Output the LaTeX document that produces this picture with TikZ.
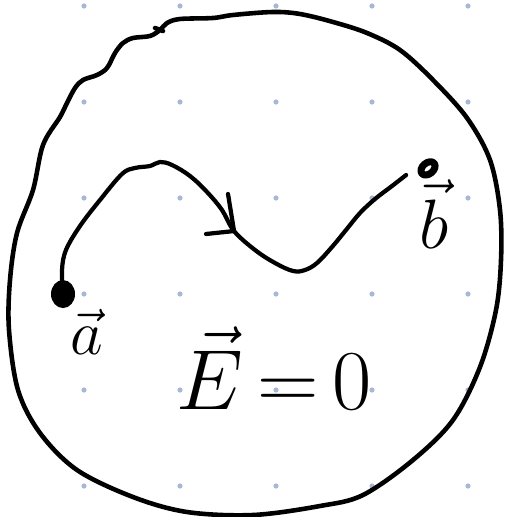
\documentclass[tikz,border=0pt]{standalone}
\usepackage{tikz}
\definecolor{gridblue}{RGB}{168,184,212}

\begin{document}
\begin{tikzpicture}[scale=0.02, yscale=-1, line cap=round, line join=round]
\useasboundingbox (0,0) rectangle (506,517);
\foreach \x in {84,180,...,468}
  \foreach \y in {6,102,...,486}
    \fill[gridblue] (\x,\y) circle (2.6);
% conductor outline
\draw[line width=2.6pt] plot[smooth cycle, tension=0.55] coordinates {
  (160,30) (167,23) (180,19) (213,18) (233,15) (273,12) (300,14) (333,22)
  (367,33) (400,50) (433,80) (467,118) (490,160) (500,210) (501,260)
  (496,310) (480,367) (453,420) (413,460) (363,495) (320,506) (253,515)
  (187,512) (133,497) (77,470) (40,433) (18,390) (9,330) (10,280) (17,233)
  (33,190) (43,145) (60,117) (67,103) (75,88) (83,80) (97,75) (107,68)
  (115,53) (123,43) (133,38) (150,36)};
\draw[line width=2.6pt] (155,28) -- (163,31);
% path from a to b
\coordinate (a) at (63,294);
\coordinate (b) at (406,175);
\coordinate (tip) at (234,231);
\draw[line width=2.4pt] plot[smooth, tension=0.6] coordinates {
  (a) (62,270) (66,250) (80,226) (100,200) (122,174) (135,168) (150,166)
  (160,162) (172,165) (190,176) (207,192) (222,210) (tip) (255,250)
  (275,263) (293,271) (305,270) (317,263) (332,247) (346,230) (360,213)
  (375,199) (392,186) (b)};
\draw[line width=2.4pt] (228,194) -- (tip) -- (206,234);
\fill (a) ellipse (12 and 14);
\draw[line width=4pt, rotate around={-40:(b)}] (b) ellipse (8 and 5.5);
% labels
\node[scale=1.45] (alabel) at (87,332) {\Huge $\vec{a}$};
\node[scale=1.6] (blabel) at (434,214) {\Huge $\vec{b}$};
\node[scale=1.95] (field) at (274,368) {\Huge $\vec{E}\,{=}\,0$};
\end{tikzpicture}
\end{document}
